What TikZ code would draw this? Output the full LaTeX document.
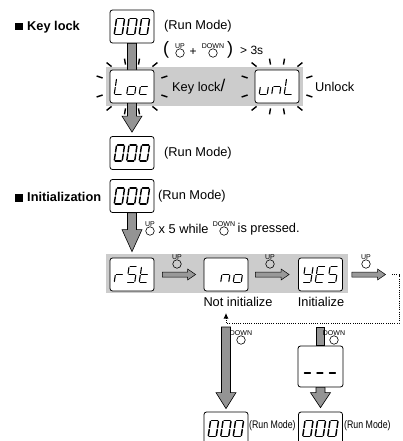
\documentclass[tikz,border=0pt]{standalone}
\usepackage{fontspec}
\setmainfont{Liberation Sans}
\usetikzlibrary{calc,arrows.meta}
\pgfdeclarelayer{background}
\pgfsetlayers{background,main}
\tikzset{
  lcd/.style={draw,fill=white,rounded corners=2.5pt,line width=.8pt,minimum width=44pt,minimum height=33pt,inner sep=0pt},
  band/.style={fill=black!20},
  blockarrow/.style={draw,fill=black!42,line width=.6pt},
  thinarr/.style={draw,fill=black!40,line width=.5pt},
  ray/.style={line width=1.4pt},
  btn/.style={circle,draw,line width=.6pt,minimum size=8.5pt,inner sep=0pt,label distance=1pt},
  btntxt/.style={font=\fontsize{7}{7}\selectfont,inner sep=0pt},
  txt/.style={font=\fontsize{12.8}{15}\selectfont,inner sep=0pt},
  dig/.style={line width=1.1pt,line cap=round},
  zero/.style={line width=1.45pt,line cap=round},
  dotline/.style={line width=.8pt,dash pattern=on .8pt off 1.4pt,-{Latex[length=5.5pt,width=5pt]}},
  seg/.style={seg #1},
  seg a/.style={insert path={(1,0)--(7,0)}},
  seg b/.style={insert path={(8,1)--(8,7)}},
  seg c/.style={insert path={(8,9)--(8,15)}},
  seg d/.style={insert path={(1,16)--(7,16)}},
  seg e/.style={insert path={(0,9)--(0,15)}},
  seg f/.style={insert path={(0,1)--(0,7)}},
  seg g/.style={insert path={(1,8)--(7,8)}},
  seg x/.style={},
}
% display text: [yshift] node, {{segs},{segs},{segs}}, style
\newcommand{\lcdtext}[4][0]{%
  \foreach \segs [count=\k] in {#3}{
    \begin{scope}[shift={(#2.west)},shift={(-5.5+12.5*\k,-8+#1)},xslant=.15]
      \foreach \s in \segs {\draw[#4,seg/.expanded=\s];}
    \end{scope}}}
\newcommand{\sparkle}[1]{%
  \foreach \an/\ax/\ay/\bx/\by in {north west/-3/-7/2/-3,north east/3/-7/-2/-3,
      south west/-3/7/2/3,south east/3/7/-2/3,north/-7.5/-11/-6.5/-5,north/7.5/-11/6.5/-5,
      south/-7.5/11/-6.5/5,south/7.5/11/6.5/5,west/-13/-10.5/-7/-8.5,west/-13/10.5/-7/8.5,
      east/13/-10.5/7/-8.5,east/13/10.5/7/8.5}
    \draw[ray] ([shift={(\ax,\ay)}]#1.\an) -- ([shift={(\bx,\by)}]#1.\an);}
\newcommand{\bigarrow}[3]{% from, tip, head length
  \draw[blockarrow] let \p1=(#1),\p2=(#2) in
    (\x1-4.5pt,\y1) -- (\x1+4.5pt,\y1) -- (\x1+4.5pt,\y2+#3) -- (\x1+10pt,\y2+#3)
    -- (\x1,\y2) -- (\x1-10pt,\y2+#3) -- (\x1-4.5pt,\y2+#3) -- cycle;}
\newcommand{\thinarrow}[2]{% from, tip
  \draw[thinarr] let \p1=(#1),\p2=(#2) in
    (\x1,\y1+2.5pt) -- (\x2-8pt,\y1+2.5pt) -- (\x2-8pt,\y1+5.5pt) -- (\x2,\y1)
    -- (\x2-8pt,\y1-5.5pt) -- (\x2-8pt,\y1-2.5pt) -- (\x1,\y1-2.5pt) -- cycle;}
\begin{document}
\begin{tikzpicture}[x=1pt,y=-1pt]
  \useasboundingbox (0,0) rectangle (403,441);
  % displays
  \node[lcd] (run1) at (132,26.5) {};
  \node[lcd] (lock) at (132,86.5) {};
  \node[lcd] (unlock) at (277,86.5) {};
  \node[lcd] (run2) at (132,153) {};
  \node[lcd] (run3) at (132,196) {};
  \node[lcd] (rst) at (132,274.5) {};
  \node[lcd] (no) at (226,274.5) {};
  \node[lcd] (yes) at (320.5,274.5) {};
  \node[lcd,minimum width=45pt,minimum height=41pt] (dash) at (320.5,366.5) {};
  \node[lcd] (runL) at (226,428.5) {};
  \node[lcd] (runR) at (320.5,428.5) {};
  \coordinate (downL) at (226,327);
  \coordinate (downR) at (320.5,327);
  \coordinate (next) at (385.5,274.5);
  \coordinate (loop) at (392,274.5);
  \coordinate (back) at (226,313);
  \begin{pgfonlayer}{background}
    \fill[band] (106,67) rectangle (303,106);
    \fill[band] (106,254) rectangle (348,293);
    \bigarrow{run1.south}{[yshift=4pt]run2.north}{16pt}
    \bigarrow{run3.south}{[yshift=6pt]rst.north}{22pt}
    \bigarrow{downL}{[yshift=3pt]runL.north}{16pt}
    \draw[blockarrow] ([xshift=-4pt]downR) rectangle ([xshift=4pt]dash.north);
    \bigarrow{dash.south}{[yshift=4pt]runR.north}{15pt}
  \end{pgfonlayer}
  \lcdtext{run1}{{a,b,c,d,e,f},{a,b,c,d,e,f},{a,b,c,d,e,f}}{zero}
  \lcdtext{lock}{{d,e,f},{c,d,e,g},{d,e,g}}{dig}
  \lcdtext{unlock}{{c,d,e},{c,e,g},{d,e,f}}{dig}
  \lcdtext{run2}{{a,b,c,d,e,f},{a,b,c,d,e,f},{a,b,c,d,e,f}}{zero}
  \lcdtext{run3}{{a,b,c,d,e,f},{a,b,c,d,e,f},{a,b,c,d,e,f}}{zero}
  \lcdtext{rst}{{e,g},{a,c,d,f,g},{d,e,f,g}}{dig}
  \lcdtext{no}{{x},{c,e,g},{c,d,e,g}}{dig}
  \lcdtext{yes}{{b,c,d,f,g},{a,d,e,f,g},{a,c,d,f,g}}{dig}
  \lcdtext[6.5]{dash}{{g},{g},{g}}{dig}
  \lcdtext{runL}{{a,b,c,d,e,f},{a,b,c,d,e,f},{a,b,c,d,e,f}}{zero}
  \lcdtext{runR}{{a,b,c,d,e,f},{a,b,c,d,e,f},{a,b,c,d,e,f}}{zero}
  \sparkle{lock}
  \sparkle{unlock}
  % key lock
  \node[txt,anchor=west] (keylbl) at (15,27) {\rule{7.5pt}{7.5pt}\hspace{4.5pt}\textbf{Key lock}};
  \node[txt,anchor=west] (mode1) at (164,26) {(Run Mode)};
  \node[txt,font=\fontsize{18}{18}\selectfont] (lpar) at (166,49.5) {(};
  \node[btn,label={[btntxt]above:UP}] (upA) at (180,53) {};
  \node[txt,font=\fontsize{12}{12}\selectfont] (plus) at (193,52) {+};
  \node[btn,label={[btntxt]above:DOWN}] (downA) at (213,53) {};
  \node[txt,font=\fontsize{18}{18}\selectfont] (rpar) at (230,49.5) {)};
  \node[txt,font=\fontsize{12}{14}\selectfont,anchor=west] (hold) at (240,50.5) {> 3s};
  \node[txt,anchor=west] (locktxt) at (172,87) {Key lock{\fontsize{17}{17}\selectfont/}};
  \node[txt,anchor=west] (unlocktxt) at (315,87) {Unlock};
  \node[txt,anchor=west] (mode2) at (164,153) {(Run Mode)};
  % initialization
  \node[txt,anchor=west] (initlbl) at (15,197) {\rule{7.5pt}{7.5pt}\hspace{4.5pt}\textbf{Initialization}};
  \node[txt,anchor=west] (mode3) at (158,196) {(Run Mode)};
  \node[btn,label={[btntxt]above:UP}] (upB) at (150,231) {};
  \node[txt,anchor=west] (times) at (158.5,229) {x 5 while};
  \node[btn,label={[btntxt]above:DOWN}] (downB) at (224,231) {};
  \node[txt,anchor=west] (press) at (237.5,229) {is pressed.};
  \thinarrow{[xshift=8pt]rst.east}{[xshift=-8pt]no.west}
  \thinarrow{[xshift=7pt]no.east}{[xshift=-9pt]yes.west}
  \thinarrow{[xshift=9pt]yes.east}{next}
  \node[btn,label={[btntxt]above:UP}] (upC) at (177,264) {};
  \node[btn,label={[btntxt]above:UP}] (upD) at (270,264) {};
  \node[btn,label={[btntxt]above:UP}] (upE) at (366,264) {};
  \draw[dotline] (loop) -- ++(7,0) |- ([yshift=-10pt]back) -- (back);
  \node[txt] (notinit) at (238,302) {Not initialize};
  \node[txt] (init) at (321,302) {Initialize};
  \node[btn,label={[btntxt]above:DOWN}] (downC) at (241,340) {};
  \node[btn,label={[btntxt]above:DOWN}] (downD) at (334,340) {};
  \node[txt,anchor=west] (mode4) at (249,426) {\scalebox{.8}[1]{\fontsize{11}{12}\selectfont(Run Mode)}};
  \node[txt,anchor=west] (mode5) at (344,426) {\scalebox{.8}[1]{\fontsize{11}{12}\selectfont(Run Mode)}};
\end{tikzpicture}
\end{document}
